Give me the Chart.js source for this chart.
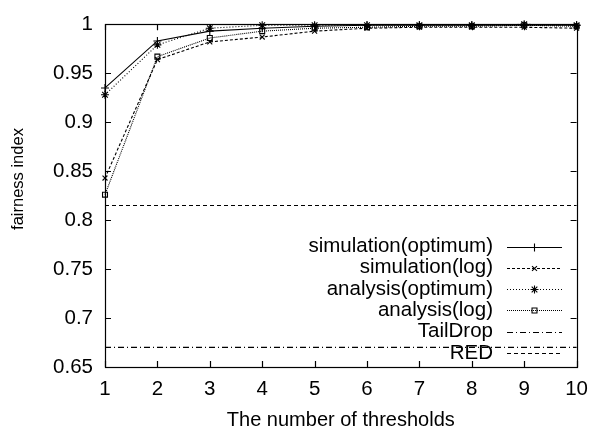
<!DOCTYPE html>
<html>
<head>
<title>Fairness index vs number of thresholds</title>
<script src="https://cdn.jsdelivr.net/npm/chart.js"></script>
<style>
  body { margin: 0; background: #fff; }
</style>
</head>
<body>
<canvas id="fairnessChart" width="598" height="433"></canvas>
<script>
// x: number of thresholds
const thresholds = [1, 2, 3, 4, 5, 6, 7, 8, 9, 10];

// fairness index per curve
const simOptimum = [0.935, 0.983, 0.993, 0.996, 0.998, 0.999, 0.999, 0.999, 0.999, 0.999];
const simLog     = [0.843, 0.964, 0.982, 0.987, 0.993, 0.996, 0.997, 0.997, 0.997, 0.996];
const anaOptimum = [0.928, 0.979, 0.996, 0.999, 0.999, 0.999, 0.999, 0.999, 1.000, 0.999];
const anaLog     = [0.826, 0.967, 0.986, 0.993, 0.996, 0.997, 0.998, 0.998, 0.999, 0.998];
const tailDrop   = [0.670, 0.670, 0.670, 0.670, 0.670, 0.670, 0.670, 0.670, 0.670, 0.670];
const red        = [0.815, 0.815, 0.815, 0.815, 0.815, 0.815, 0.815, 0.815, 0.815, 0.815];

const xTicks = [1, 2, 3, 4, 5, 6, 7, 8, 9, 10];
const yTicks = [0.65, 0.7, 0.75, 0.8, 0.85, 0.9, 0.95, 1];

const FONT = '"Liberation Sans", Arial, Helvetica, sans-serif';

function pts(ys) {
    return ys.map((y, i) => ({ x: thresholds[i], y: y }));
}

function series(label, ys, dash, style, radius) {
    return {
        label: label,
        data: pts(ys),
        borderColor: '#000',
        borderWidth: 1.1,
        borderDash: dash,
        pointStyle: style,
        pointRadius: radius,
        pointBorderColor: '#000',
        pointBackgroundColor: 'rgba(0,0,0,0)',
        pointBorderWidth: 1.1,
        fill: false,
        tension: 0,
        clip: false
    };
}

// frame, inward tick marks on all four sides, axis titles
const framePlugin = {
    id: 'frame',
    afterDraw(chart) {
        const ctx = chart.ctx;
        const a = chart.chartArea;
        const xs = chart.scales.x, ys = chart.scales.y;
        const len = 6;
        ctx.save();
        ctx.strokeStyle = '#000';
        ctx.lineWidth = 1.2;
        ctx.setLineDash([]);
        ctx.strokeRect(Math.round(a.left) + 0.5, Math.round(a.top) + 0.5,
            Math.round(a.right - a.left), Math.round(a.bottom - a.top));
        ctx.beginPath();
        xTicks.forEach(v => {
            const px = Math.round(xs.getPixelForValue(v)) + 0.5;
            ctx.moveTo(px, a.bottom); ctx.lineTo(px, a.bottom - len);
            ctx.moveTo(px, a.top); ctx.lineTo(px, a.top + len);
        });
        yTicks.forEach(v => {
            const py = Math.round(ys.getPixelForValue(v)) + 0.5;
            ctx.moveTo(a.left, py); ctx.lineTo(a.left + len, py);
            ctx.moveTo(a.right, py); ctx.lineTo(a.right - len, py);
        });
        ctx.stroke();

        ctx.fillStyle = '#000';
        ctx.textAlign = 'center';
        ctx.textBaseline = 'middle';
        ctx.font = '20px ' + FONT;
        ctx.fillText('The number of thresholds', (a.left + a.right) / 2, 420);
        ctx.translate(18, 179);
        ctx.rotate(-Math.PI / 2);
        ctx.font = '16.5px ' + FONT;
        ctx.fillText('fairness index', 0, 0);
        ctx.restore();
    }
};

// key drawn inside the plot, text right-aligned before each sample
const keyPlugin = {
    id: 'gnuplotKey',
    afterDatasetsDraw(chart) {
        const ctx = chart.ctx;
        const textRight = 493, x0 = 507, x1 = 562;
        const top = 246.5, step = 21.3;
        chart.data.datasets.forEach((ds, i) => {
            const y = top + i * step;
            ctx.save();
            ctx.font = '20.5px ' + FONT;
            ctx.fillStyle = '#000';
            ctx.textAlign = 'right';
            ctx.textBaseline = 'middle';
            ctx.fillText(ds.label, textRight, y);
            ctx.strokeStyle = ds.borderColor;
            ctx.lineWidth = ds.borderWidth;
            ctx.setLineDash(ds.borderDash || []);
            ctx.beginPath();
            ctx.moveTo(x0, Math.round(y) + 0.5);
            ctx.lineTo(x1, Math.round(y) + 0.5);
            ctx.stroke();
            if (ds.pointRadius > 0) {
                ctx.setLineDash([]);
                ctx.fillStyle = 'rgba(0,0,0,0)';
                Chart.helpers.drawPoint(ctx, {
                    pointStyle: ds.pointStyle, radius: ds.pointRadius, borderWidth: 1, rotation: 0
                }, (x0 + x1) / 2, Math.round(y) + 0.5);
            }
            ctx.restore();
        });
    }
};

const ctx = document.getElementById('fairnessChart').getContext('2d');
new Chart(ctx, {
    type: 'line',
    data: {
        datasets: [
            series('simulation(optimum)', simOptimum, [], 'cross', 4),
            series('simulation(log)', simLog, [3, 2], 'crossRot', 3.5),
            series('analysis(optimum)', anaOptimum, [1, 2], 'star', 4),
            series('analysis(log)', anaLog, [1, 1], 'rect', 3.5),
            series('TailDrop', tailDrop, [6, 3, 1, 3], false, 0),
            series('RED', red, [4, 3], false, 0)
        ]
    },
    options: {
        responsive: false,
        animation: false,
        layout: { padding: { top: 18, right: 13, left: 0, bottom: 0 } },
        plugins: {
            legend: { display: false },
            tooltip: { enabled: false }
        },
        scales: {
            x: {
                type: 'linear',
                min: 1,
                max: 10,
                afterBuildTicks: s => { s.ticks = xTicks.map(v => ({ value: v })); },
                afterFit: s => { s.height = 66; },
                grid: { display: false, drawTicks: false },
                border: { display: false },
                ticks: {
                    color: '#000',
                    padding: 10,
                    maxRotation: 0,
                    font: { family: FONT, size: 20.5 },
                    callback: v => String(v)
                }
            },
            y: {
                min: 0.65,
                max: 1,
                afterBuildTicks: s => { s.ticks = yTicks.map(v => ({ value: v })); },
                afterFit: s => { s.width = 105; },
                grid: { display: false, drawTicks: false },
                border: { display: false },
                ticks: {
                    color: '#000',
                    padding: 12,
                    font: { family: FONT, size: 20.5 },
                    callback: v => String(Math.round(v * 100) / 100)
                }
            }
        }
    },
    plugins: [keyPlugin, framePlugin]
});
</script>
</body>
</html>
